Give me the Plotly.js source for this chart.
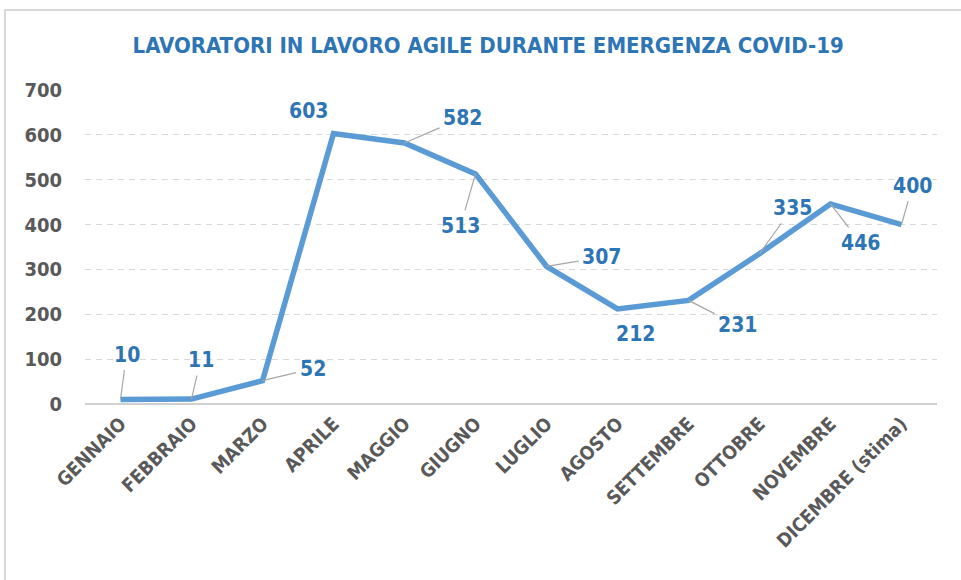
<!DOCTYPE html>
<html>
<head>
<meta charset="utf-8">
<script src="https://cdn.plot.ly/plotly-3.0.1.min.js"></script>
<style>
  html, body { margin: 0; padding: 0; background: #fff; overflow: hidden; }
  #frame { position: absolute; left: 4px; top: 9px; width: 970px; height: 590px; border: 2px solid #d9d9d9; box-sizing: border-box; }
  #chart { position: absolute; left: 0; top: 0; width: 961px; height: 580px; }
</style>
</head>
<body>
<div id="frame"></div>
<div id="chart"></div>
<script>
// Data
const months = ["GENNAIO", "FEBBRAIO", "MARZO", "APRILE", "MAGGIO", "GIUGNO", "LUGLIO", "AGOSTO", "SETTEMBRE", "OTTOBRE", "NOVEMBRE", "DICEMBRE (stima)"];
const workers = [10, 11, 52, 603, 582, 513, 307, 212, 231, 335, 446, 400];
const chartTitle = "LAVORATORI IN LAVORO AGILE DURANTE EMERGENZA COVID-19";

// Label placement (pixel offsets from each point) and leader visibility
const labelOffsetX = [6, 9, 50, -25, 58, -15, 55, 18, 49, 33, 30, 11];
const labelOffsetY = [-45, -39, -12, -23, -25, 52, -9, 25, 25, -46, 39, -39];
const showLeader = [true, true, true, false, true, true, true, false, true, true, true, true];

const FONT = '"DejaVu Sans Condensed", "DejaVu Sans", sans-serif';
const blueText = '#2E75B6';
const lineBlue = '#5B9BD5';
const grayText = '#595959';

const annotations = months.map((m, i) => {
  const a = {
    x: m, y: workers[i], xref: 'x', yref: 'y',
    text: String(workers[i]),
    font: { family: FONT, size: 21, color: blueText, weight: 'bold' }
  };
  if (showLeader[i]) {
    Object.assign(a, {
      showarrow: true, arrowhead: 0, arrowwidth: 1.2, arrowcolor: '#A6A6A6',
      ax: labelOffsetX[i], ay: labelOffsetY[i], borderpad: 3, standoff: 0
    });
  } else {
    Object.assign(a, {
      showarrow: false, xanchor: 'center', yanchor: 'middle',
      xshift: labelOffsetX[i], yshift: -labelOffsetY[i]
    });
  }
  return a;
});

const trace = {
  x: months, y: workers, type: 'scatter', mode: 'lines',
  line: { color: lineBlue, width: 5.5, shape: 'linear' },
  hoverinfo: 'x+y'
};

const layout = {
  width: 961, height: 580,
  paper_bgcolor: 'rgba(0,0,0,0)', plot_bgcolor: 'rgba(0,0,0,0)',
  margin: { l: 85, r: 24, t: 90, b: 176 },
  showlegend: false,
  title: {
    text: chartTitle,
    x: 0.508, xanchor: 'center', y: 0.922, yanchor: 'middle',
    font: { family: FONT, size: 22, color: blueText, weight: 'bold' }
  },
  xaxis: {
    type: 'category',
    range: [-0.5, months.length - 0.5],
    tickangle: -45,
    showgrid: false, showline: false, zeroline: false,
    ticks: '', ticklabelstandoff: 4,
    tickfont: { family: FONT, size: 19, color: grayText, weight: 'bold' }
  },
  yaxis: {
    range: [0, 700], dtick: 100, tick0: 0,
    showgrid: true, gridcolor: '#D9D9D9', gridwidth: 1, griddash: '6px,5px',
    zeroline: true, zerolinecolor: '#D0D0D0', zerolinewidth: 1.5,
    showline: false, ticks: '', ticklabelstandoff: 22,
    tickfont: { family: FONT, size: 20, color: grayText, weight: 'bold' }
  },
  annotations: annotations
};

Plotly.newPlot('chart', [trace], layout, { displayModeBar: false, staticPlot: true });
</script>
</body>
</html>
